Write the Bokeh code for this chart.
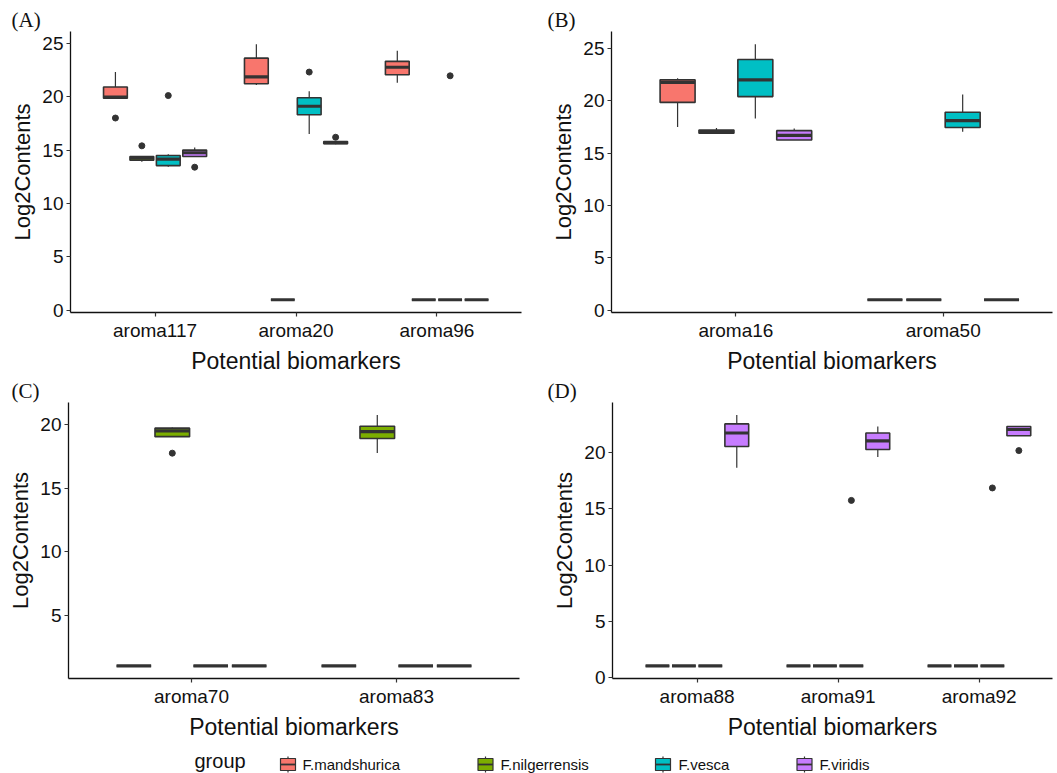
from bokeh.plotting import figure
from bokeh.models import ColumnDataSource, Range1d, FixedTicker
from bokeh.layouts import column, row
from bokeh.transform import dodge
from bokeh.embed import file_html
from bokeh.resources import INLINE
from bokeh.core.properties import value

# ---------------- data ----------------
groups = ["F.mandshurica", "F.nilgerrensis", "F.vesca", "F.viridis"]
colors = ["#F8766D", "#7CAE00", "#00BFC4", "#C77CFF"]

# each tuple: (lower whisker, Q1, median, Q3, upper whisker), one tuple per marker
# Panel A
A_markers = ["aroma117", "aroma20", "aroma96"]
A_mandshurica = [(19.85, 19.85, 19.95, 20.90, 22.30), (21.10, 21.20, 21.85, 23.60, 24.90), (21.30, 22.05, 22.75, 23.30, 24.30)]
A_nilgerrensis = [(13.90, 14.05, 14.25, 14.40, 14.45), (1, 1, 1, 1, 1), (1, 1, 1, 1, 1)]
A_vesca = [(13.45, 13.55, 14.15, 14.50, 14.60), (16.50, 18.30, 19.10, 19.90, 20.50), (1, 1, 1, 1, 1)]
A_viridis = [(14.40, 14.40, 14.75, 15.00, 15.25), (15.55, 15.60, 15.70, 15.80, 15.80), (1, 1, 1, 1, 1)]
A_out_marker = ["aroma117", "aroma117", "aroma117", "aroma117", "aroma20", "aroma20", "aroma96"]
A_out_group = ["F.mandshurica", "F.nilgerrensis", "F.vesca", "F.viridis", "F.vesca", "F.viridis", "F.vesca"]
A_out_value = [18.0, 15.4, 20.1, 13.4, 22.3, 16.2, 21.95]

# Panel B
B_markers = ["aroma16", "aroma50"]
B_mandshurica = [(17.50, 19.85, 21.75, 22.00, 22.15), (1, 1, 1, 1, 1)]
B_nilgerrensis = [(16.90, 16.90, 17.05, 17.20, 17.40), (1, 1, 1, 1, 1)]
B_vesca = [(18.30, 20.40, 22.00, 23.95, 25.40), (17.05, 17.45, 18.10, 18.90, 20.60)]
B_viridis = [(16.25, 16.25, 16.70, 17.15, 17.35), (1, 1, 1, 1, 1)]
B_out_marker = []
B_out_group = []
B_out_value = []

# Panel C
C_markers = ["aroma70", "aroma83"]
C_mandshurica = [(1, 1, 1, 1, 1), (1, 1, 1, 1, 1)]
C_nilgerrensis = [(19.05, 19.05, 19.50, 19.72, 19.77), (17.77, 18.90, 19.44, 19.87, 20.75)]
C_vesca = [(1, 1, 1, 1, 1), (1, 1, 1, 1, 1)]
C_viridis = [(1, 1, 1, 1, 1), (1, 1, 1, 1, 1)]
C_out_marker = ["aroma70"]
C_out_group = ["F.nilgerrensis"]
C_out_value = [17.75]

# Panel D
D_markers = ["aroma88", "aroma91", "aroma92"]
D_mandshurica = [(1, 1, 1, 1, 1), (1, 1, 1, 1, 1), (1, 1, 1, 1, 1)]
D_nilgerrensis = [(1, 1, 1, 1, 1), (1, 1, 1, 1, 1), (1, 1, 1, 1, 1)]
D_vesca = [(1, 1, 1, 1, 1), (1, 1, 1, 1, 1), (1, 1, 1, 1, 1)]
D_viridis = [(18.66, 20.56, 21.77, 22.58, 23.37), (19.62, 20.30, 21.06, 21.77, 22.35), (21.53, 21.53, 22.08, 22.35, 22.35)]
D_out_marker = ["aroma91", "aroma92", "aroma92"]
D_out_group = ["F.vesca", "F.vesca", "F.viridis"]
D_out_value = [15.76, 16.87, 20.2]

y_tick_values = [0, 5, 10, 15, 20, 25]

# ---------------- style ----------------
FONT = "Liberation Sans"
INK = "#333333"
TXT = "#111111"
SLOT = 0.75 / 4
BOXW = SLOT * 0.9


def build_panel(tag, markers, stats, out_m, out_g, out_v, x_end, width, height,
                b_left, b_right, b_top, b_bottom, tag_offset):
    allv = [v for s in stats for t in s for v in t] + list(out_v)
    lo, hi = min(allv), max(allv)
    pad = (hi - lo) * 0.05
    p = figure(width=width, height=height,
               x_range=Range1d(0.4, x_end), y_range=Range1d(lo - pad, hi + pad),
               output_backend="svg", toolbar_location=None,
               min_border_left=b_left, min_border_right=b_right,
               min_border_top=b_top, min_border_bottom=b_bottom)
    p.outline_line_color = None
    p.xgrid.visible = False
    p.ygrid.visible = False
    p.background_fill_color = "white"
    p.border_fill_color = "white"

    xi = list(range(1, len(markers) + 1))
    for gi, (g, c, s) in enumerate(zip(groups, colors, stats)):
        off = (gi - 1.5) * SLOT
        src = ColumnDataSource(dict(
            xi=xi,
            lo=[t[0] for t in s], q1=[t[1] for t in s], med=[t[2] for t in s],
            q3=[t[3] for t in s], hi=[t[4] for t in s]))
        p.segment(x0=dodge("xi", off), y0="hi", x1=dodge("xi", off), y1="q3",
                  line_color=INK, line_width=1.2, source=src)
        p.segment(x0=dodge("xi", off), y0="lo", x1=dodge("xi", off), y1="q1",
                  line_color=INK, line_width=1.2, source=src)
        p.vbar(x=dodge("xi", off), width=BOXW, top="q3", bottom="q1",
               fill_color=c, line_color=INK, line_width=1.6, source=src)
        p.segment(x0=dodge("xi", off - BOXW / 2), y0="med", x1=dodge("xi", off + BOXW / 2), y1="med",
                  line_color=INK, line_width=3.2, source=src)
        oi = [markers.index(m) + 1 for m, gg in zip(out_m, out_g) if gg == g]
        ov = [v for m, gg, v in zip(out_m, out_g, out_v) if gg == g]
        if oi:
            osrc = ColumnDataSource(dict(xi=oi, v=ov))
            p.scatter(x=dodge("xi", off), y="v", size=6, fill_color=INK,
                      line_color=INK, source=osrc)

    p.xaxis.ticker = FixedTicker(ticks=xi)
    p.xaxis.major_label_overrides = {i: m for i, m in zip(xi, markers)}
    p.yaxis.ticker = FixedTicker(ticks=y_tick_values)
    for ax in (p.xaxis[0], p.yaxis[0]):
        ax.axis_line_color = "#111111"
        ax.axis_line_width = 1.3
        ax.major_tick_line_color = INK
        ax.major_tick_line_width = 1.2
        ax.major_tick_out = 4
        ax.major_tick_in = 0
        ax.minor_tick_line_color = None
        ax.major_label_text_font = FONT
        ax.major_label_text_font_size = "19px"
        ax.major_label_text_color = TXT
        ax.major_label_standoff = 3
        ax.axis_label_text_font = FONT
        ax.axis_label_text_font_style = "normal"
        ax.axis_label_text_color = TXT
        ax.axis_label_standoff = 4
    p.xaxis.axis_label_text_font_size = "23px"
    p.yaxis.axis_label_text_font_size = "22px"
    p.xaxis.axis_label = "Potential biomarkers"
    p.yaxis.axis_label = "Log2Contents"

    p.title.text = tag
    p.title.text_font = "Liberation Serif"
    p.title.text_font_size = "21px"
    p.title.text_font_style = "normal"
    p.title.text_color = TXT
    p.title.align = "left"
    p.title.offset = tag_offset
    p.title.standoff = 0
    return p


pA = build_panel("(A)", A_markers, [A_mandshurica, A_nilgerrensis, A_vesca, A_viridis],
                 A_out_marker, A_out_group, A_out_value, 3.6,
                 530, 376, 70, 9, 31, 63, -59)
pB = build_panel("(B)", B_markers, [B_mandshurica, B_nilgerrensis, B_vesca, B_viridis],
                 B_out_marker, B_out_group, B_out_value, 2.527,
                 527, 376, 81, 5, 31, 63, -64)
pC = build_panel("(C)", C_markers, [C_mandshurica, C_nilgerrensis, C_vesca, C_viridis],
                 C_out_marker, C_out_group, C_out_value, 2.6,
                 530, 366, 68, 11, 24, 60, -57)
pD = build_panel("(D)", D_markers, [D_mandshurica, D_nilgerrensis, D_vesca, D_viridis],
                 D_out_marker, D_out_group, D_out_value, 3.52,
                 527, 366, 82, 5, 24, 60, -65)

# ---------------- legend ----------------
leg = figure(width=1057, height=31, x_range=Range1d(0, 1057), y_range=Range1d(31, 0),
             output_backend="svg", toolbar_location=None, min_border=0)
leg.axis.visible = False
leg.xgrid.visible = False
leg.ygrid.visible = False
leg.outline_line_color = None
key_x = [287.5, 485.0, 662.5, 804.0]
text_x = [302, 500, 678, 819]
lsrc = ColumnDataSource(dict(kx=key_x, tx=text_x, name=groups, color=colors))
leg.text(x=[194], y=[18], text=["group"], text_font=value(FONT), text_font_size="20px",
         text_baseline="middle", text_color=TXT)
leg.segment(x0="kx", y0=14, x1="kx", y1=30, line_color=INK, line_width=1.2, source=lsrc)
leg.rect(x="kx", y=22, width=15, height=12, fill_color="color", line_color=INK,
         line_width=1.2, source=lsrc)
leg.segment(x0=dodge("kx", -7.5), y0=22, x1=dodge("kx", 7.5), y1=22, line_color=INK,
            line_width=1.8, source=lsrc)
leg.text(x="tx", y=22, text="name", text_font=value(FONT), text_font_size="15px",
         text_baseline="middle", text_color=TXT, source=lsrc)

layout = column(row(pA, pB), row(pC, pD), leg)
open("out.html", "w").write(file_html(layout, INLINE))
